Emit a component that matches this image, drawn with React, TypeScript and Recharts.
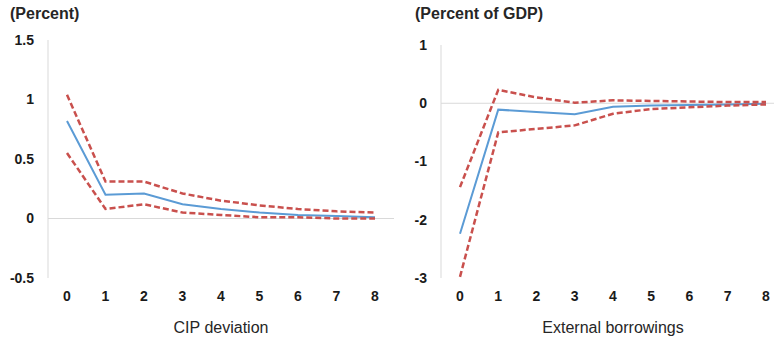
import { LineChart, Line, XAxis, YAxis, ReferenceLine } from "recharts";

// quarters after the shock
const horizons = [0, 1, 2, 3, 4, 5, 6, 7, 8];

// CIP deviation response (percent)
const cipMid = [0.82, 0.2, 0.21, 0.12, 0.08, 0.05, 0.03, 0.02, 0.01];
const cipUpper = [1.04, 0.31, 0.31, 0.21, 0.15, 0.11, 0.08, 0.06, 0.05];
const cipLower = [0.55, 0.08, 0.12, 0.05, 0.03, 0.01, 0.01, 0.0, 0.0];
const cipTicks = [-0.5, 0, 0.5, 1, 1.5];

// external borrowings response (percent of GDP)
const borrowMid = [-2.24, -0.11, -0.15, -0.19, -0.06, -0.04, -0.03, -0.02, -0.01];
const borrowUpper = [-1.44, 0.23, 0.1, 0.01, 0.05, 0.04, 0.03, 0.02, 0.02];
const borrowLower = [-2.98, -0.5, -0.44, -0.38, -0.18, -0.1, -0.07, -0.04, -0.02];
const borrowTicks = [-3, -2, -1, 0, 1];

const toRows = (mid: number[], upper: number[], lower: number[]) =>
  horizons.map((h, i) => ({ h: String(h), mid: mid[i], upper: upper[i], lower: lower[i] }));

const cipData = toRows(cipMid, cipUpper, cipLower);
const borrowData = toRows(borrowMid, borrowUpper, borrowLower);

const FONT = "'Liberation Sans', Arial, sans-serif";
const tickStyle = { fontSize: 14, fontWeight: 700, fill: "#1a1a1a", fontFamily: FONT };
const RED = "#C9504D";
const BLUE = "#5B9BD5";
const GRID = "#d9d9d9";

type PanelProps = {
  data: ReturnType<typeof toRows>;
  ticks: number[];
  width: number;
  top: number;
  yWidth: number;
  xTitle: string;
};

function Panel({ data, ticks, width, top, yWidth, xTitle }: PanelProps) {
  return (
    <LineChart width={width} height={341} data={data} margin={{ top, right: 0, bottom: 0, left: 0 }}>
      <XAxis
        dataKey="h"
        axisLine={false}
        tickLine={false}
        tick={tickStyle}
        tickMargin={7}
        height={63}
        padding={{ left: 19, right: 19 }}
        interval={0}
        label={{
          value: xTitle,
          position: "insideBottom",
          offset: 8,
          style: { fontSize: 16, fill: "#262626", fontFamily: FONT },
        }}
      />
      <YAxis
        type="number"
        domain={[ticks[0], ticks[ticks.length - 1]]}
        ticks={ticks}
        width={yWidth}
        axisLine={{ stroke: GRID }}
        tickLine={false}
        tick={tickStyle}
        tickMargin={8}
        interval={0}
      />
      <ReferenceLine y={0} stroke={GRID} strokeWidth={1} />
      <Line type="linear" dataKey="mid" stroke={BLUE} strokeWidth={2} dot={false} isAnimationActive={false} />
      <Line type="linear" dataKey="upper" stroke={RED} strokeWidth={2.5} strokeDasharray="6 3" dot={false} isAnimationActive={false} />
      <Line type="linear" dataKey="lower" stroke={RED} strokeWidth={2.5} strokeDasharray="6 3" dot={false} isAnimationActive={false} />
    </LineChart>
  );
}

const unitStyle = {
  position: "absolute" as const,
  top: 5,
  fontFamily: FONT,
  fontSize: 16,
  fontWeight: 700,
  color: "#262626",
};

export default function App() {
  return (
    <div style={{ position: "fixed", left: 0, top: 0, width: 774, height: 341, overflow: "hidden", background: "#fff" }}>
      <div style={{ position: "absolute", left: 0, top: 0 }}>
        <Panel data={cipData} ticks={cipTicks} width={394} top={40} yWidth={48} xTitle="CIP deviation" />
      </div>
      <div style={{ position: "absolute", left: 390, top: 0 }}>
        <Panel data={borrowData} ticks={borrowTicks} width={395} top={45} yWidth={51} xTitle="External borrowings" />
      </div>
      <div style={{ ...unitStyle, left: 10 }}>(Percent)</div>
      <div style={{ ...unitStyle, left: 415 }}>(Percent of GDP)</div>
    </div>
  );
}
